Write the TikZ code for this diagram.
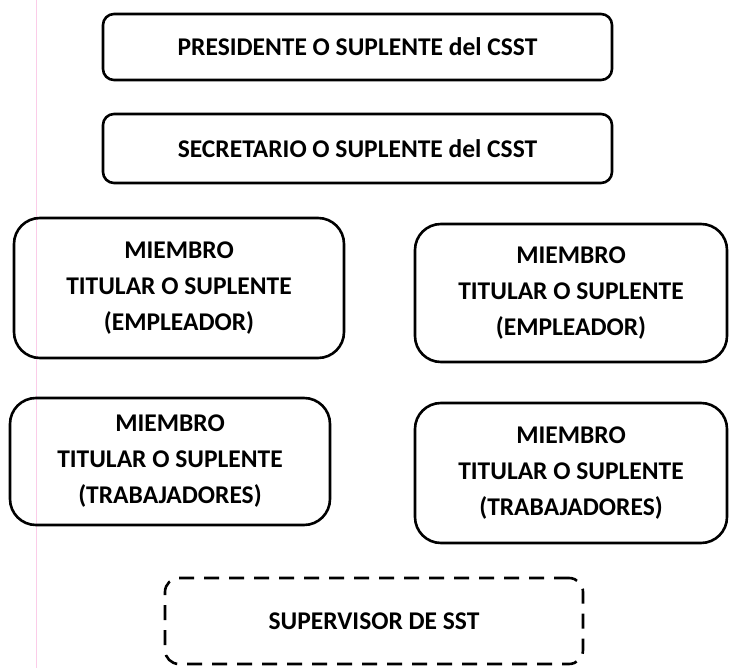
\documentclass[tikz,border=0pt]{standalone}
\usepackage{fontspec}
\setmainfont{Carlito}
\begin{document}
\begin{tikzpicture}[x=1pt,y=-1pt,
  box/.style={draw,line width=2.6pt,rounded corners=11pt,inner sep=0pt,
    font=\bfseries\fontsize{25.5}{36}\selectfont,align=center},
  bigbox/.style={box,rounded corners=26pt},
  dashbox/.style={box,dash pattern=on 15pt off 10pt,rounded corners=14pt}]
\useasboundingbox (0,0) rectangle (731,668);
% Margin line of the scanned page
\draw[line width=0.8pt,magenta!20] (36,0) -- (36,668);

% Top boxes
\node[box,minimum width=509pt,minimum height=66pt] (pres) at (357.5,47)
  {PRESIDENTE O SUPLENTE del CSST};
\node[box,minimum width=509pt,minimum height=69pt] (secr) at (357.5,148.5)
  {SECRETARIO O SUPLENTE del CSST};

% Members for the employer
\node[bigbox,minimum width=330pt,minimum height=140pt] (empL) at (179,288)
  {MIEMBRO\\TITULAR O SUPLENTE\\(EMPLEADOR)};
\node[bigbox,minimum width=312pt,minimum height=138pt] (empR) at (571,293)
  {MIEMBRO\\TITULAR O SUPLENTE\\(EMPLEADOR)};

% Members for the workers
\node[bigbox,minimum width=320pt,minimum height=127pt] (trabL) at (170,461.5)
  {MIEMBRO\\TITULAR O SUPLENTE\\(TRABAJADORES)};
\node[bigbox,minimum width=312pt,minimum height=140pt] (trabR) at (571,473)
  {MIEMBRO\\TITULAR O SUPLENTE\\(TRABAJADORES)};

% Supervisor, dashed
\node[dashbox,minimum width=418pt,minimum height=86pt] (sup) at (374,621)
  {SUPERVISOR DE SST};
\end{tikzpicture}
\end{document}
